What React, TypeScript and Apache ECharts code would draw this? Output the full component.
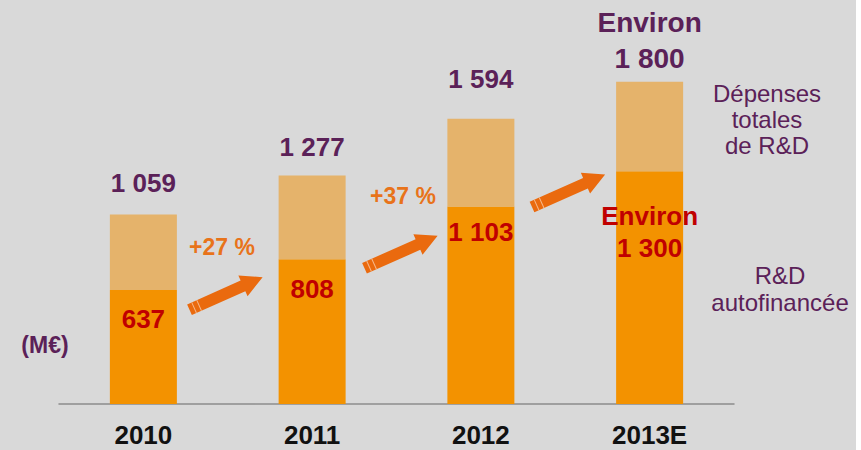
import React, { useEffect, useRef } from "react";
import * as echarts from "echarts";

const categories = ["2010", "2011", "2012", "2013E"];
const selfFunded = [637, 808, 1103, 1300];
const totalRD = [1059, 1277, 1594, 1800];
const estimated = [false, false, false, true];
const growthLabels = ["+27 %", "+37 %"];

const FONT = 'Arial, "Liberation Sans", sans-serif';
const PURPLE = "#5B2158";
const RED = "#C00000";
const ORANGE_TXT = "#E8731A";
const ARROW = "#EA6A0E";

const fmt = (v: number) =>
  v >= 1000 ? `${Math.floor(v / 1000)} ${String(v % 1000).padStart(3, "0")}` : String(v);

// label layout (pixels)
const innerDist = [15, 16, 11, 29];
const topDist = [17, 14, 26, 5];

function arrow(x: number, y: number) {
  const hw = 5.8;
  const hh = 11.3;
  const L = 80;
  const hb = 58.5;
  return {
    type: "group",
    x,
    y,
    rotation: (24 * Math.PI) / 180,
    children: [
      {
        type: "polygon",
        shape: {
          points: [
            [0, -hw],
            [hb, -hw],
            [hb, -hh],
            [L, 0],
            [hb, hh],
            [hb, hw],
            [0, hw],
          ],
        },
        style: { fill: ARROW },
      },
      {
        type: "line",
        shape: { x1: 5, y1: -hw, x2: 5, y2: hw },
        style: { stroke: "#F6B98C", lineWidth: 1 },
      },
      {
        type: "line",
        shape: { x1: 10.5, y1: -hw, x2: 10.5, y2: hw },
        style: { stroke: "#F6B98C", lineWidth: 1 },
      },
    ],
  };
}

export default function App() {
  const ref = useRef<HTMLDivElement>(null);
  useEffect(() => {
    if (!ref.current) return;
    const chart = echarts.init(ref.current, null, { renderer: "svg" });
    const upper = totalRD.map((t, i) => t - selfFunded[i]);
    chart.setOption({
      animation: false,
      backgroundColor: "#ffffff",
      grid: { left: 59, right: 127, top: 46, bottom: 46 },
      xAxis: {
        type: "category",
        data: categories,
        axisLine: { lineStyle: { color: "#8c8c8c", width: 1.5 } },
        axisTick: { length: 8, lineStyle: { color: "#8c8c8c", width: 1.5 } },
        axisLabel: {
          margin: 19,
          fontFamily: FONT,
          fontWeight: "bold",
          fontSize: 26,
          lineHeight: 24,
          color: "#111111",
        },
      },
      yAxis: {
        type: "value",
        min: 0,
        max: 2000,
        show: false,
        splitLine: { show: false },
      },
      graphic: [
        {
          type: "rect",
          z: -10,
          silent: true,
          shape: { x: 0, y: 0, width: 856, height: 450 },
          style: { fill: "#D9D9D9" },
        },
        {
          type: "text",
          x: 45,
          y: 345,
          style: {
            text: "(M€)",
            font: `bold 23px ${FONT}`,
            fill: PURPLE,
            align: "center",
            verticalAlign: "middle",
          },
        },
        {
          type: "text",
          x: 222,
          y: 247,
          style: {
            text: growthLabels[0],
            font: `bold 23px ${FONT}`,
            fill: ORANGE_TXT,
            align: "center",
            verticalAlign: "middle",
          },
        },
        {
          type: "text",
          x: 403,
          y: 196,
          style: {
            text: growthLabels[1],
            font: `bold 23px ${FONT}`,
            fill: ORANGE_TXT,
            align: "center",
            verticalAlign: "middle",
          },
        },
        {
          type: "text",
          x: 767,
          y: 119,
          style: {
            text: "Dépenses\ntotales\nde R&D",
            font: `24px ${FONT}`,
            lineHeight: 26,
            fill: PURPLE,
            align: "center",
            verticalAlign: "middle",
          },
        },
        {
          type: "text",
          x: 780,
          y: 289,
          style: {
            text: "R&D\nautofinancée",
            font: `24px ${FONT}`,
            lineHeight: 27,
            fill: PURPLE,
            align: "center",
            verticalAlign: "middle",
          },
        },
        arrow(189.5, 309.7),
        arrow(364.5, 268.3),
        arrow(532, 207),
      ],
      series: [
        {
          type: "bar",
          stack: "rd",
          barWidth: 67,
          itemStyle: { color: "#F39200" },
          data: selfFunded.map((v, i) => ({
            value: v,
            label: {
              show: true,
              position: "insideTop",
              distance: innerDist[i],
              formatter: (estimated[i] ? "Environ\n" : "") + fmt(v),
              fontFamily: FONT,
              fontWeight: "bold",
              fontSize: 26,
              lineHeight: estimated[i] ? 32 : 28,
              color: RED,
            },
          })),
        },
        {
          type: "bar",
          stack: "rd",
          barWidth: 67,
          itemStyle: { color: "#E5B36B" },
          data: upper.map((v, i) => ({
            value: v,
            label: {
              show: true,
              position: "top",
              distance: topDist[i],
              formatter: (estimated[i] ? "Environ\n" : "") + fmt(totalRD[i]),
              fontFamily: FONT,
              fontWeight: "bold",
              fontSize: estimated[i] ? 28 : 26,
              lineHeight: estimated[i] ? 36 : 28,
              color: PURPLE,
            },
          })),
        },
      ],
    });
    return () => chart.dispose();
  }, []);
  return (
    <div
      ref={ref}
      style={{ position: "fixed", left: 0, top: 0, width: 861, height: 450 }}
    />
  );
}
